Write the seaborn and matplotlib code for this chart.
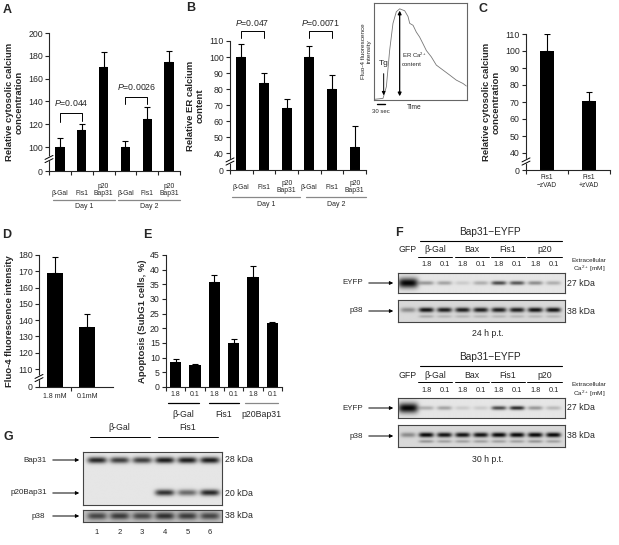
import matplotlib
matplotlib.use('Agg')
import matplotlib.pyplot as plt
import matplotlib.transforms as mtransforms
from matplotlib.ticker import NullLocator
import numpy as np
import pandas as pd
import seaborn as sns

# ---------------- data ----------------
a_day = ['Day 1', 'Day 1', 'Day 1', 'Day 2', 'Day 2', 'Day 2']
a_group = ['β-Gal', 'Fis1', 'p20\nBap31', 'β-Gal', 'Fis1', 'p20\nBap31']
a_mean = [100, 115, 170, 100, 125, 175]
a_err = [8, 5, 13, 5, 10, 9]

b_day = ['Day 1', 'Day 1', 'Day 1', 'Day 2', 'Day 2', 'Day 2']
b_group = ['β-Gal', 'Fis1', 'p20\nBap31', 'β-Gal', 'Fis1', 'p20\nBap31']
b_mean = [100, 84, 68, 100, 80, 44]
b_err = [8, 6, 6, 7, 9, 13]

trace_t = [0.7, 9.7, 13.3, 16.8, 20.4, 24, 27.6, 33, 36.6, 38.4, 42, 45.5, 49,
           52.7, 56.3, 61.6, 67, 74, 81, 88.5, 95.7, 99.3]
trace_f = [0.7, 1.7, 13.7, 51, 79, 91, 94, 92, 86, 79, 77, 70, 65,
           58, 51, 44.5, 36, 31, 26, 20.5, 17, 14.4]

c_group = ['Fis1\n\u2212zVAD', 'Fis1\n+zVAD']
c_mean = [100, 70.5]
c_err = [10, 5.5]

d_group = ['1.8 mM', '0.1mM']
d_mean = [169, 136]
d_err = [10, 8]

e_gene = ['β-Gal', 'β-Gal', 'Fis1', 'Fis1', 'p20Bap31', 'p20Bap31']
e_ca = ['1.8', '0.1', '1.8', '0.1', '1.8', '0.1']
e_mean = [8.6, 7.5, 35.8, 14.9, 37.4, 21.8]
e_err = [0.9, 0.3, 2.5, 1.4, 3.8, 0.2]

f_groups = ['β-Gal', 'Bax', 'Fis1', 'p20']
f_ca = ['1.8', '0.1', '1.8', '0.1', '1.8', '0.1', '1.8', '0.1']
# band darkness per lane: GFP, then the eight Bap31-EYFP lanes
f24_eyfp = [1.0, 0.35, 0.3, 0.12, 0.25, 0.7, 0.65, 0.4, 0.25]
f24_p38 = [0.35, 0.9, 0.85, 0.85, 0.85, 0.85, 0.85, 0.9, 0.9]
f24_p38_low = [0, 0.2, 0.15, 0.15, 0.15, 0.15, 0.15, 0.15, 0.15]
f30_eyfp = [1.0, 0.25, 0.3, 0.12, 0.12, 0.7, 0.85, 0.35, 0.2]
f30_p38 = [0.35, 0.95, 0.9, 0.9, 0.9, 0.95, 0.95, 0.95, 0.95]
f30_p38_low = [0, 0.3, 0.25, 0.25, 0.25, 0.25, 0.25, 0.3, 0.25]

g_groups = ['β-Gal', 'Fis1']
g_lanes = ['1', '2', '3', '4', '5', '6']
g_bap31 = [0.85, 0.75, 0.75, 0.9, 0.9, 0.9]
g_p20 = [0, 0, 0, 0.8, 0.55, 0.85]
g_p38 = [0.55, 0.6, 0.55, 0.65, 0.6, 0.55]

# ---------------- style ----------------
sns.set_style('ticks')
plt.rcParams['font.family'] = ['Liberation Sans', 'DejaVu Sans']
plt.rcParams['mathtext.fontset'] = 'custom'
plt.rcParams['mathtext.rm'] = 'Liberation Sans'
plt.rcParams['mathtext.it'] = 'Liberation Sans:italic'
plt.rcParams['mathtext.bf'] = 'Liberation Sans:bold'
plt.rcParams['axes.linewidth'] = 0.8
plt.rcParams['font.size'] = 6

W, H = 619, 545
fig = plt.figure(figsize=(W / 100, H / 100), dpi=100)


def rect(x0, y0, x1, y1):
    return [x0 / W, 1 - y1 / H, (x1 - x0) / W, (y1 - y0) / H]


def brk(lo, gap):
    def fwd(v):
        v = np.asarray(v, float)
        return np.where(v < lo, v * gap / lo, v - lo + gap)

    def inv(y):
        y = np.asarray(y, float)
        return np.where(y < gap, y * lo / gap, y + lo - gap)
    return fwd, inv


def bars(ax, keys, mean, err, width, top, yticks, lo=None, gap=None):
    df = pd.DataFrame({'key': keys, 'mean': mean})
    sns.barplot(data=df, x='key', y='mean', order=keys, color='black',
                saturation=1, width=width, edgecolor='black', linewidth=0, ax=ax)
    n = len(keys)
    ax.errorbar(np.arange(n), mean, yerr=[np.zeros(n), err], fmt='none',
                ecolor='black', elinewidth=0.8, capsize=2, capthick=0.8)
    if lo:
        ax.set_yscale('function', functions=brk(lo, gap))
    ax.set_ylim(0, top)
    ax.set_yticks(yticks)
    ax.set_yticklabels([str(t) for t in yticks])
    ax.yaxis.set_minor_locator(NullLocator())
    ax.set_xlim(-0.5, n - 0.5)
    ax.set_xticks(np.arange(n + 1) - 0.5, minor=True)
    ax.tick_params(axis='x', which='major', length=0)
    ax.tick_params(axis='x', which='minor', length=3, width=0.8)
    ax.tick_params(axis='y', length=3, width=0.8, labelsize=6.3, pad=1.5)
    ax.set_xlabel('')
    ax.set_ylabel('')
    sns.despine(ax=ax)


def axis_break(ax, yfrac, wpx, hpx):
    dx, dy, sep = 4 / wpx, 2 / hpx, 1.6 / hpx
    ax.fill([-dx, dx, dx, -dx],
            [yfrac - sep - dy, yfrac - sep + dy, yfrac + sep + dy, yfrac + sep - dy],
            color='white', transform=ax.transAxes, clip_on=False, zorder=5)
    for s in (-sep, sep):
        ax.plot([-dx, dx], [yfrac + s - dy, yfrac + s + dy], color='k', lw=0.7,
                transform=ax.transAxes, clip_on=False, zorder=6)


def under(ax, labels, yfrac, va, fs):
    tr = mtransforms.blended_transform_factory(ax.transData, ax.transAxes)
    for i, s in enumerate(labels):
        ax.text(i, yfrac, s, transform=tr, ha='center', va=va, fontsize=fs,
                linespacing=1.0)


def group_line(ax, x0, x1, yline, label, ylab, fs, color='#888888'):
    tr = mtransforms.blended_transform_factory(ax.transData, ax.transAxes)
    ax.plot([x0, x1], [yline, yline], color=color, lw=0.9, transform=tr, clip_on=False)
    ax.text((x0 + x1) / 2, ylab, label, transform=tr, ha='center', va='center',
            fontsize=fs)


def bracket(ax, x0, x1, ytop, yl0, yl1, text, ytext):
    ax.plot([x0, x0, x1, x1], [yl0, ytop, ytop, yl1], color='k', lw=0.7, clip_on=False)
    ax.text((x0 + x1) / 2, ytext, text, ha='center', va='center', fontsize=6.3,
            clip_on=False)


ylab_kw = dict(fontsize=6.8, fontweight='bold', linespacing=1.1)

# ---------------- A ----------------
axA = fig.add_axes(rect(49, 33, 180, 171))
a_keys = [d + ' ' + g for d, g in zip(a_day, a_group)]
bars(axA, a_keys, a_mean, a_err, 0.42, 200, [0, 100, 120, 140, 160, 180, 200], 100, 21)
axA.set_xticklabels([])
axis_break(axA, 10.5 / 121, 131, 138)
under(axA, a_group, -0.188, 'bottom', 4.9)
group_line(axA, -0.32, 2.5, -0.21, 'Day 1', -0.255, 5)
group_line(axA, 2.65, 5.5, -0.21, 'Day 2', -0.255, 5)
bracket(axA, 0, 1, 130, 122, 123, '$P$=0.044', 139)
bracket(axA, 3, 4, 144, 138, 138, '$P$=0.0026', 153)
axA.set_ylabel('Relative cytosolic calcium\nconcentration', labelpad=3, **ylab_kw)

# ---------------- B ----------------
axB = fig.add_axes(rect(230, 41, 366, 170))
b_keys = [d + ' ' + g for d, g in zip(b_day, b_group)]
bars(axB, b_keys, b_mean, b_err, 0.44, 110, [0, 40, 50, 60, 70, 80, 90, 100, 110], 40, 10.6)
axB.set_xticklabels([])
axis_break(axB, 5.3 / 80.6, 136, 129)
under(axB, b_group, -0.132, 'center', 4.9)
group_line(axB, -0.4, 2.6, -0.209, 'Day 1', -0.264, 5)
group_line(axB, 2.85, 5.5, -0.209, 'Day 2', -0.264, 5)
bracket(axB, 0, 1, 116, 112, 112, '$P$=0.047', 121)
bracket(axB, 3, 4, 116, 112, 112, '$P$=0.0071', 121)
axB.set_ylabel('Relative ER calcium\ncontent', labelpad=3, **ylab_kw)

# ---------------- inset ----------------
axI = fig.add_axes(rect(374, 3, 467, 100))
sns.lineplot(x=trace_t, y=trace_f, sort=False, estimator=None, color='#777777',
             lw=0.6, ax=axI)
axI.set_xlim(0, 100)
axI.set_ylim(0, 100)
axI.set_xticks([])
axI.set_yticks([])
for sp in axI.spines.values():
    sp.set_color('#666666')
    sp.set_linewidth(0.8)
axI.annotate('', xy=(10.4, 2), xytext=(10.4, 30),
             arrowprops=dict(arrowstyle='-|>', color='k', lw=0.7, mutation_scale=5))
axI.text(10.4, 38, 'Tg', ha='center', va='center', fontsize=6)
axI.annotate('', xy=(27.6, 1), xytext=(27.6, 95),
             arrowprops=dict(arrowstyle='<|-|>', color='k', lw=0.9, mutation_scale=5))
axI.text(30, 42, 'ER Ca$^{2+}$\ncontent', ha='left', va='center', fontsize=4.3,
         linespacing=1.5)
axI.plot([3, 12], [-4, -4], color='k', lw=1, clip_on=False)
axI.text(7, -12, '30 sec', ha='center', va='center', fontsize=4.3, clip_on=False)
axI.text(43, -8, 'Time', ha='center', va='center', fontsize=4.8, clip_on=False)
axI.set_ylabel('Fluo-4 fluorescence\nintensity', fontsize=4.6, labelpad=2,
               linespacing=1.1)

# ---------------- C ----------------
axC = fig.add_axes(rect(526, 34, 610, 170))
bars(axC, c_group, c_mean, c_err, 0.34, 110, [0, 40, 50, 60, 70, 80, 90, 100, 110], 40, 10)
axC.tick_params(axis='x', which='major', labelsize=4.8, pad=3)
for t in axC.get_xticklabels():
    t.set_linespacing(1.1)
axis_break(axC, 5 / 80, 84, 136)
axC.set_ylabel('Relative cytosolic calcium\nconcentration', labelpad=3, **ylab_kw)

# ---------------- D ----------------
axD = fig.add_axes(rect(39, 255, 113, 387))
bars(axD, d_group, d_mean, d_err, 0.5, 180, [0, 110, 120, 130, 140, 150, 160, 170, 180], 110, 11)
axD.set_xlim(-0.5, 1.8)
axD.set_xticks([0.5], minor=True)
axD.tick_params(axis='x', which='major', labelsize=5, pad=4)
axis_break(axD, 5.5 / 81, 74, 132)
axD.set_ylabel('Fluo-4 fluorescence intensity', labelpad=3, **ylab_kw)

# ---------------- E ----------------
axE = fig.add_axes(rect(166, 255, 282, 387))
e_keys = [g + ' ' + c for g, c in zip(e_gene, e_ca)]
bars(axE, e_keys, e_mean, e_err, 0.57, 45, list(range(0, 50, 5)))
axE.set_xticklabels(e_ca)
axE.tick_params(axis='x', which='major', labelsize=5, pad=3)
group_line(axE, -0.4, 1.2, -0.121, e_gene[0], -0.212, 6.3, color='black')
group_line(axE, 1.7, 3.3, -0.121, e_gene[2], -0.212, 6.3, color='black')
group_line(axE, 3.6, 5.3, -0.121, e_gene[4], -0.212, 6.3, color='#888888')
axE.set_ylabel('Apoptosis (SubG1 cells, %)', labelpad=2, **ylab_kw)


# ---------------- blots ----------------
def blot(ax, lane_x, rows, bg=0.9):
    xs = np.linspace(0, 1, 400)
    ys = np.linspace(0, 1, 80)
    X, Y = np.meshgrid(xs, ys)
    img = np.full_like(X, bg)
    for yc, vals, hw, hh in rows:
        for xc, v in zip(lane_x, vals):
            img -= 0.88 * v * np.exp(-((X - xc) / hw) ** 4 - ((Y - yc) / hh) ** 2)
    ax.imshow(np.clip(img, 0.02, 1), cmap='gray', vmin=0, vmax=1,
              extent=(0, 1, 1, 0), aspect='auto', interpolation='bilinear')
    ax.set_xlim(0, 1)
    ax.set_ylim(1, 0)
    ax.set_xticks([])
    ax.set_yticks([])
    for sp in ax.spines.values():
        sp.set_color('#444444')
        sp.set_linewidth(0.8)


ov = fig.add_axes([0, 0, 1, 1])
ov.set_xlim(0, W)
ov.set_ylim(H, 0)
ov.axis('off')


def arrow_label(x_text, x0, x1, y, s, fs=5.8):
    ov.text(x_text, y, s, ha='right', va='center', fontsize=fs)
    ov.annotate('', xy=(x1, y), xytext=(x0, y),
                arrowprops=dict(arrowstyle='-|>', color='k', lw=0.7, mutation_scale=5))


f_lane_px = 408 + 18.2 * np.arange(9)
f_lane_frac = (f_lane_px - 398) / 167


def f_block(y0, eyfp, p38, p38_low, label):
    ov.text(490, y0, 'Bap31\u2212EYFP', ha='center', va='center', fontsize=7.3)
    ov.plot([420, 562], [y0 + 9, y0 + 9], color='k', lw=0.8)
    ov.text(f_lane_px[0], y0 + 18, 'GFP', ha='center', va='center', fontsize=6.3)
    for gi, g in enumerate(f_groups):
        xa, xb = f_lane_px[1 + 2 * gi], f_lane_px[2 + 2 * gi]
        ov.text((xa + xb) / 2, y0 + 18, g, ha='center', va='center', fontsize=6.3)
        ov.plot([xa - 8, xb + 8], [y0 + 25, y0 + 25], color='k', lw=0.7)
    for i, s in enumerate(f_ca):
        ov.text(f_lane_px[i + 1], y0 + 33, s, ha='center', va='center', fontsize=5.3)
    ov.text(589, y0 + 28, 'Extracellular', ha='center', va='center', fontsize=4.6)
    ov.text(589, y0 + 37, 'Ca$^{2+}$ [mM]', ha='center', va='center', fontsize=4.6)
    ax1 = fig.add_axes(rect(398, y0 + 41, 565, y0 + 61))
    gfp = [v if i == 0 else 0 for i, v in enumerate(eyfp)]
    rest = [0 if i == 0 else v for i, v in enumerate(eyfp)]
    blot(ax1, f_lane_frac, [(0.5, gfp, 0.06, 0.25), (0.5, rest, 0.045, 0.1)])
    ax2 = fig.add_axes(rect(398, y0 + 68, 565, y0 + 90))
    blot(ax2, f_lane_frac, [(0.45, p38, 0.045, 0.11), (0.75, p38_low, 0.045, 0.07)],
         bg=0.85)
    arrow_label(363, 366, 396, y0 + 51, 'EYFP')
    arrow_label(363, 366, 396, y0 + 79, 'p38')
    ov.text(567, y0 + 51, '27 kDa', ha='left', va='center', fontsize=6.3)
    ov.text(567, y0 + 79, '38 kDa', ha='left', va='center', fontsize=6.3)
    ov.text(488, y0 + 102, label, ha='center', va='center', fontsize=6.3)


f_block(232, f24_eyfp, f24_p38, f24_p38_low, '24 h p.t.')
f_block(357, f30_eyfp, f30_p38, f30_p38_low, '30 h p.t.')

# G
g_lane_px = 97 + 22.6 * np.arange(6)
g_lane_frac = (g_lane_px - 83) / 139
axG1 = fig.add_axes(rect(83, 452, 222, 505))
blot(axG1, g_lane_frac, [(0.15, g_bap31, 0.07, 0.06), (0.77, g_p20, 0.07, 0.06)])
axG2 = fig.add_axes(rect(83, 510, 222, 522))
blot(axG2, g_lane_frac, [(0.5, g_p38, 0.07, 0.3)], bg=0.75)
for gi, g in enumerate(g_groups):
    xa, xb = g_lane_px[3 * gi], g_lane_px[3 * gi + 2]
    ov.text((xa + xb) / 2, 428, g, ha='center', va='center', fontsize=6.3)
    ov.plot([xa - 7, xb + 8], [437, 437], color='k', lw=0.7)
for x, s in zip(g_lane_px, g_lanes):
    ov.text(x, 533, s, ha='center', va='center', fontsize=5.5)
arrow_label(47, 50, 82, 460, 'Bap31')
arrow_label(47, 50, 82, 493, 'p20Bap31')
arrow_label(45, 50, 82, 516, 'p38')
ov.text(225, 460, '28 kDa', ha='left', va='center', fontsize=6.3)
ov.text(225, 493, '20 kDa', ha='left', va='center', fontsize=6.3)
ov.text(225, 516, '38 kDa', ha='left', va='center', fontsize=6.3)

# panel letters
for s, x, y in [('A', 7, 10), ('B', 191, 8), ('C', 483, 9), ('D', 7, 235),
                ('E', 147, 235), ('F', 399, 233), ('G', 8, 437)]:
    ov.text(x, y, s, ha='center', va='center', fontsize=9, fontweight='bold')

fig.savefig('out.png', dpi=100)
